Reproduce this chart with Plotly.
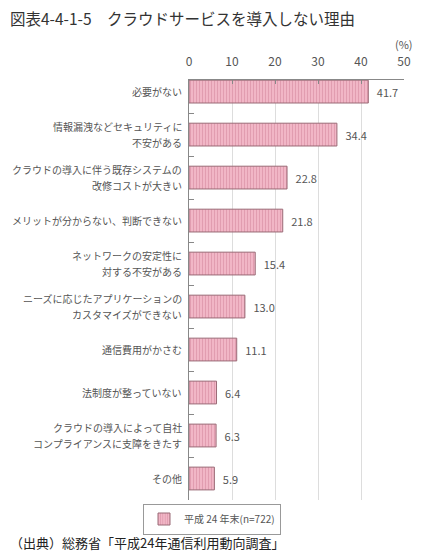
import plotly.graph_objects as go

reasons = [
    "必要がない",
    "情報漏洩などセキュリティに<br>不安がある",
    "クラウドの導入に伴う既存システムの<br>改修コストが大きい",
    "メリットが分からない、判断できない",
    "ネットワークの安定性に<br>対する不安がある",
    "ニーズに応じたアプリケーションの<br>カスタマイズができない",
    "通信費用がかさむ",
    "法制度が整っていない",
    "クラウドの導入によって自社<br>コンプライアンスに支障をきたす",
    "その他",
]
percent = [41.7, 34.4, 22.8, 21.8, 15.4, 13.0, 11.1, 6.4, 6.3, 5.9]
series_name = "平成 24 年末(n=722)"
x_ticks = [0, 10, 20, 30, 40, 50]

FONT = "Noto Sans CJK JP"
GREY = "#555555"
PINK = "#f2b8c8"

# the page body has an 8px margin, so the figure is a bit smaller than the window
W, H = 409, 543
L, R, T, B = 181, 13, 72, 51
PW, PH = W - L - R, H - T - B


def px_x(x):
    return (x - L) / PW


def px_y(y):
    return (H - B - y) / PH


fig = go.Figure(go.Bar(
    x=percent,
    y=reasons,
    orientation="h",
    name=series_name,
    width=0.53,
    marker=dict(
        color=PINK,
        line=dict(color="#9a6a76", width=1),
        pattern=dict(shape="|", fgcolor="#cf8298", bgcolor=PINK,
                     size=3, solidity=0.4, fillmode="overlay"),
    ),
    text=[f"\u2002{v:.1f}" for v in percent],
    textposition="outside",
    textfont=dict(size=11, color=GREY, family=FONT),
    cliponaxis=False,
    showlegend=True,
))

# category labels as annotations so the two-line ones get a looser line gap
notes = []
for label in reasons:
    lines = label.split("<br>")
    n = len(lines)
    for j, line in enumerate(lines):
        notes.append(dict(
            text=line, x=0, y=label, xref="paper", yref="y",
            xanchor="right", yanchor="middle", xshift=-5,
            yshift=(n - 1) * 8 - j * 16, showarrow=False,
            font=dict(size=10, color=GREY, family=FONT),
        ))

notes.append(dict(
    text="(%)", x=50, y=1, xref="x", yref="paper",
    yshift=26, showarrow=False, xanchor="center", yanchor="bottom",
    font=dict(size=11, color=GREY, family=FONT),
))
notes.append(dict(
    text="（出典）総務省「平成24年通信利用動向調査」",
    x=px_x(0), y=px_y(534), xref="paper", yref="paper",
    showarrow=False, xanchor="left", yanchor="middle",
    font=dict(size=13, color="#222222", family=FONT),
))
notes.append(dict(
    text="図表4-4-1-5　クラウドサービスを導入しない理由",
    x=px_x(0), y=px_y(10), xref="paper", yref="paper",
    showarrow=False, xanchor="left", yanchor="middle",
    font=dict(size=15.5, color="#333333", family=FONT),
))

fig.update_layout(
    template="none",
    width=W,
    height=H,
    margin=dict(l=L, r=R, t=T, b=B),
    paper_bgcolor="white",
    plot_bgcolor="white",
    font=dict(family=FONT, color=GREY),
    legend=dict(
        orientation="h",
        x=px_x(204), xanchor="center",
        y=px_y(511), yanchor="middle",
        bordercolor="#999999", borderwidth=1,
        bgcolor="white",
        font=dict(size=10, color=GREY, family=FONT),
        itemwidth=30,
    ),
    xaxis=dict(
        side="top",
        range=[0, 50],
        tickvals=x_ticks,
        showgrid=True,
        gridcolor="#dddddd",
        gridwidth=1,
        showline=True,
        linecolor="#888888",
        linewidth=1,
        ticks="inside",
        ticklen=4,
        tickcolor="#888888",
        ticklabelstandoff=8,
        tickfont=dict(size=12, color=GREY, family=FONT),
        zeroline=False,
        automargin=False,
        fixedrange=True,
    ),
    yaxis=dict(
        type="category",
        range=[9.5, -0.27],
        showline=True,
        linecolor="#888888",
        linewidth=1,
        ticks="inside",
        ticklen=5,
        tickcolor="#888888",
        tickson="boundaries",
        showticklabels=False,
        showgrid=False,
        zeroline=False,
        automargin=False,
        fixedrange=True,
    ),
    annotations=notes,
)

fig.write_html("out.html")
